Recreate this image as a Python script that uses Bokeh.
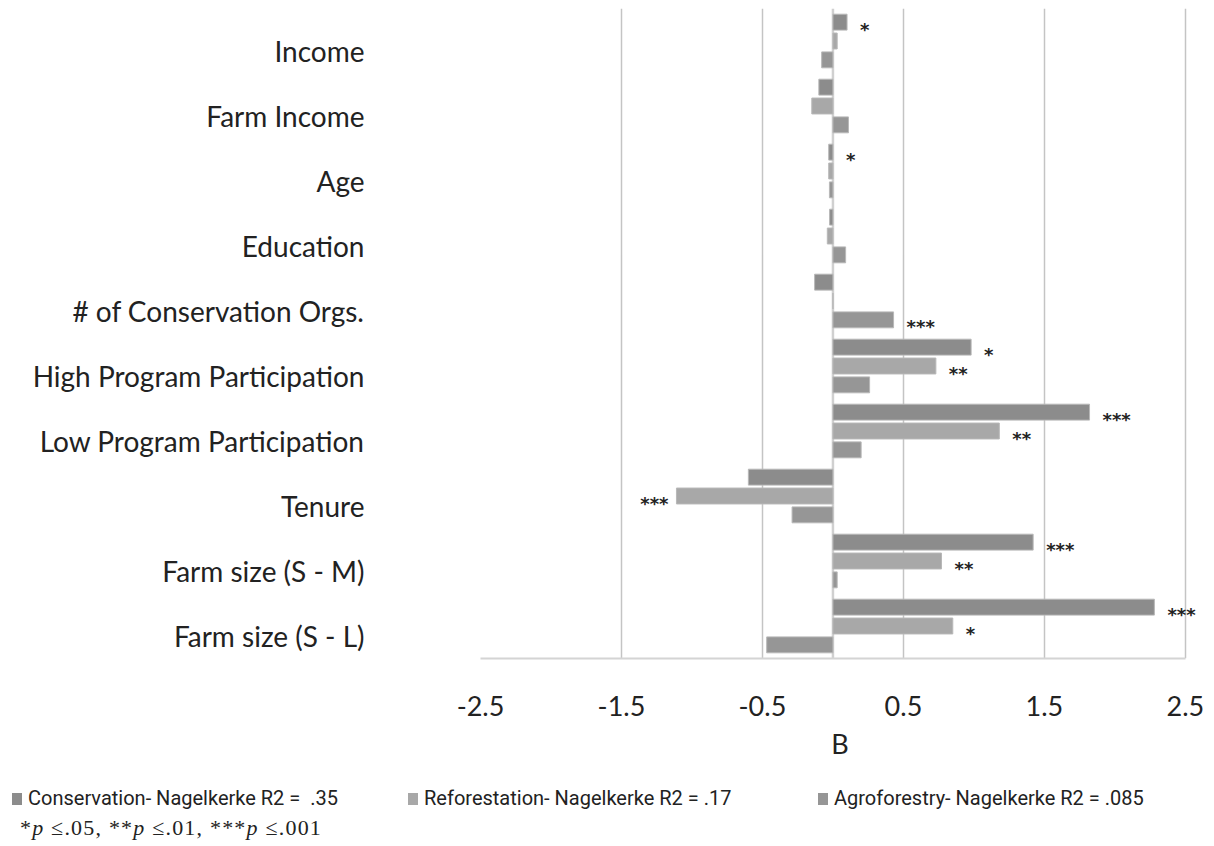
from bokeh.plotting import figure
from bokeh.layouts import column
from bokeh.models import Range1d, LinearAxis, FixedTicker, ColumnDataSource, Span, Div
from bokeh.core.properties import value
from bokeh.embed import file_html
from bokeh.resources import INLINE

# Logistic regression coefficients (B) for each predictor, listed top to bottom
predictors = ["Income", "Farm Income", "Age", "Education", "# of Conservation Orgs.",
              "High Program Participation", "Low Program Participation", "Tenure",
              "Farm size (S - M)", "Farm size (S - L)"]
conservation = [0.10, -0.10, -0.03, -0.024, -0.13, 0.98, 1.82, -0.60, 1.42, 2.28]
reforestation = [0.03, -0.15, -0.03, -0.04, 0.0, 0.73, 1.18, -1.11, 0.77, 0.85]
agroforestry = [-0.08, 0.11, -0.025, 0.09, 0.43, 0.26, 0.20, -0.29, 0.03, -0.47]

# significance markers
sig_conservation = ["*", "", "*", "", "", "*", "***", "", "***", "***"]
sig_reforestation = ["", "", "", "", "", "**", "**", "***", "**", "*"]
sig_agroforestry = ["", "", "", "", "***", "", "", "", "", ""]

legend_labels = ["Conservation- Nagelkerke R2 =&nbsp; .35",
                 "Reforestation- Nagelkerke R2 = .17",
                 "Agroforestry- Nagelkerke R2 = .085"]
colors = ["#8c8c8c", "#a8a8a8", "#969696"]
x_ticks = [-2.5, -1.5, -0.5, 0.5, 1.5, 2.5]
x_tick_labels = ["-2.5", "-1.5", "-0.5", "0.5", "1.5", "2.5"]

FONT = "Lato"
n = len(predictors)
# group centres: first predictor at the top
centres = [n - 1 - i + 0.5 for i in range(n)]

# the range runs a little past 2.5 so the outermost stars have room; the axis stops at 2.5
p = figure(width=1214, height=770, output_backend="svg", toolbar_location=None,
           x_range=Range1d(-2.5, 2.6), y_range=Range1d(0, n),
           y_axis_location=None,
           min_border_left=480, min_border_right=15, min_border_top=8, min_border_bottom=112)
p.outline_line_color = None
p.background_fill_color = "white"
p.border_fill_color = "white"

# x axis
p.xaxis.ticker = FixedTicker(ticks=x_ticks)
p.xaxis.bounds = (-2.5, 2.5)
p.xaxis.major_label_overrides = dict(zip(x_ticks, x_tick_labels))
p.xaxis.axis_line_color = "#d4d4d4"
p.xaxis.axis_line_width = 2
p.xaxis.major_tick_line_color = None
p.xaxis.minor_tick_line_color = None
p.xaxis.major_tick_out = 0
p.xaxis.major_label_text_font = FONT
p.xaxis.major_label_text_font_size = "27px"
p.xaxis.major_label_text_color = "#222222"
p.xaxis.major_label_standoff = 37
p.xaxis.axis_label = "B"
p.xaxis.axis_label_text_font = FONT
p.xaxis.axis_label_text_font_size = "27px"
p.xaxis.axis_label_text_font_style = "normal"
p.xaxis.axis_label_text_color = "#222222"
p.xaxis.axis_label_standoff = 8

p.xgrid.ticker = FixedTicker(ticks=x_ticks)
p.xgrid.grid_line_color = "#c4c4c4"
p.xgrid.grid_line_width = 1.5
for g in p.ygrid:
    g.visible = False

# category labels sit slightly below each group centre
label_ticks = [c - 0.15 for c in centres]
label_axis = LinearAxis(ticker=FixedTicker(ticks=label_ticks),
                        major_label_overrides={t: name for t, name in zip(label_ticks, predictors)})
label_axis.axis_line_color = None
label_axis.major_tick_line_color = None
label_axis.minor_tick_line_color = None
label_axis.major_tick_out = 0
label_axis.major_tick_in = 0
label_axis.major_label_text_font = FONT
label_axis.major_label_text_font_size = "28px"
label_axis.major_label_text_color = "#222222"
label_axis.major_label_standoff = 116
p.add_layout(label_axis, "left")

# zero line
p.add_layout(Span(location=0, dimension="height", line_color="#d0d0d0", line_width=2.5,
                  level="underlay"))

series = [
    (conservation, sig_conservation, colors[0], 0.29),
    (reforestation, sig_reforestation, colors[1], 0.0),
    (agroforestry, sig_agroforestry, colors[2], -0.29),
]

for vals, sigs, color, off in series:
    ys = [c + off for c in centres]
    src = ColumnDataSource(dict(y=ys, val=vals))
    p.hbar(y="y", left=0, right="val", height=0.245,
           source=src, fill_color=color, line_color="#b8b8b8", line_width=1)

    # stars: right of the bar end (or of zero); to the left for long negative bars
    pos = dict(y=[], x=[], s=[])
    neg = dict(y=[], x=[], s=[])
    for y, v, s in zip(ys, vals, sigs):
        if not s:
            continue
        if v < -0.1:
            neg["y"].append(y); neg["x"].append(v); neg["s"].append(s)
        else:
            pos["y"].append(y); pos["x"].append(max(v, 0)); pos["s"].append(s)
    star_style = dict(text_baseline="middle", y_offset=7, text_font=value("DejaVu Sans"),
                      text_font_size="18px", text_font_style="bold", text_color="#222222")
    if pos["y"]:
        p.text(x="x", y="y", text="s", source=ColumnDataSource(pos),
               text_align="left", x_offset=13, **star_style)
    if neg["y"]:
        p.text(x="x", y="y", text="s", source=ColumnDataSource(neg),
               text_align="right", x_offset=-8, **star_style)

# legend row and significance note under the chart
item_left = [12, 408, 818]
items_html = "".join(
    f'<div style="position:absolute;left:{x}px;top:18px;height:20px;line-height:20px;white-space:nowrap;">'
    f'<span style="display:inline-block;width:10px;height:12px;background:{c};'
    f'margin-right:6px;vertical-align:0px;"></span>{lab}</div>'
    for x, c, lab in zip(item_left, colors, legend_labels))
note_html = (
    '<div style="position:relative;width:1214px;height:76px;font-family:Roboto;'
    'font-size:20px;color:#222222;">'
    + items_html +
    '<div style="position:absolute;left:20px;top:46px;line-height:24px;white-space:nowrap;'
    'font-family:\'Liberation Serif\';font-size:22px;letter-spacing:1.2px;">'
    '*<i>p</i> \u2264.05, **<i>p</i> \u2264.01, ***<i>p</i> \u2264.001</div>'
    '</div>')
note = Div(text=note_html, width=1214, height=76, margin=0)

layout = column(p, note, spacing=0)
open("out.html", "w").write(file_html(layout, INLINE))
